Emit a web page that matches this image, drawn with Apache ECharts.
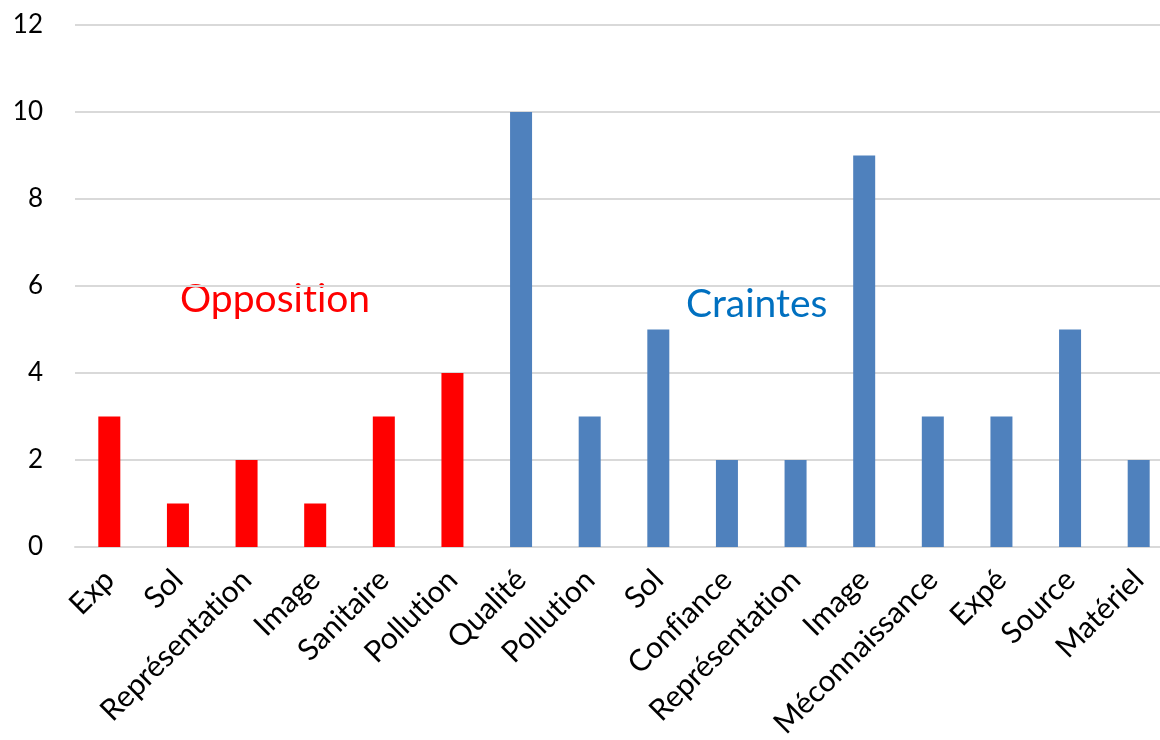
<!DOCTYPE html>
<html>
<head>
<meta charset="utf-8">
<script src="https://cdn.jsdelivr.net/npm/echarts@6/dist/echarts.min.js"></script>
<style>
  html, body { margin: 0; padding: 0; background: #fff; }
  #chart { width: 1160px; height: 740px; }
</style>
</head>
<body>
<div id="chart"></div>
<script>
// opposition group (red)
var oppCats = ['Exp', 'Sol', 'Représentation', 'Image', 'Sanitaire', 'Pollution'];
var oppVals = [3, 1, 2, 1, 3, 4];
// craintes group (blue)
var craCats = ['Qualité', 'Pollution', 'Sol', 'Confiance', 'Représentation', 'Image',
  'Méconnaissance', 'Expé', 'Source', 'Matériel'];
var craVals = [10, 3, 5, 2, 2, 9, 3, 3, 5, 2];
var yTicks = [0, 2, 4, 6, 8, 10, 12];

var font = 'Lato, "Open Sans", sans-serif';
var cats = oppCats.concat(craCats);
var oppData = oppVals.concat(craCats.map(function () { return '-'; }));
var craData = oppCats.map(function () { return '-'; }).concat(craVals);

// zero-width non-joiner keeps Lato from drawing the ti / fi ligatures
function noLig(s) {
  return s.replace(/t(?=i)/g, 't\u200C').replace(/f(?=i)/g, 'f\u200C');
}

var chart = echarts.init(document.getElementById('chart'));
chart.setOption({
  animation: false,
  grid: { left: 75, right: -13, top: 25, bottom: 193, outerBoundsMode: 'none' },
  xAxis: {
    type: 'category',
    data: cats,
    axisLine: { lineStyle: { color: '#d9d9d9', width: 2 } },
    axisTick: { show: false },
    axisLabel: {
      rotate: 45, interval: 0, margin: 28,
      fontFamily: font, fontSize: 30, color: '#000',
      formatter: noLig
    }
  },
  yAxis: {
    type: 'value',
    min: yTicks[0], max: yTicks[yTicks.length - 1], interval: 2,
    axisLine: { show: false },
    axisTick: { show: false },
    splitLine: { lineStyle: { color: '#d9d9d9', width: 2 } },
    axisLabel: { fontFamily: font, fontSize: 26, color: '#000', margin: 32 }
  },
  series: [
    {
      type: 'bar', data: oppData, barWidth: 22, barGap: '-100%',
      itemStyle: { color: '#ff0000' }
    },
    {
      type: 'bar', data: craData, barWidth: 22,
      itemStyle: { color: '#4f81bd' }
    }
  ],
  graphic: [
    {
      type: 'text', left: 180, top: 280,
      style: { text: noLig('Opposition'), fill: '#ff0000', font: '39px ' + font }
    },
    {
      type: 'text', left: 686, top: 285,
      style: { text: 'Craintes', fill: '#0070c0', font: '39px ' + font }
    }
  ]
});
</script>
</body>
</html>
